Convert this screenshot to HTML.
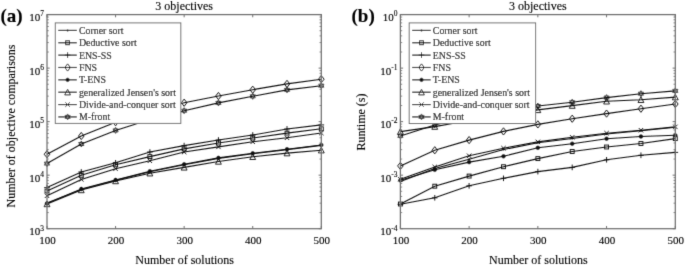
<!DOCTYPE html>
<html><head><meta charset="utf-8"><style>html,body{margin:0;padding:0;background:#fff;width:685px;height:267px;overflow:hidden}svg{display:block}text{font-family:"Liberation Serif",serif;stroke:#000;stroke-width:0.12px}</style></head><body>
<svg width="685" height="267" viewBox="0 0 685 267" font-family='"Liberation Serif", serif' fill="#000"><defs><filter id="bl" x="0" y="0" width="685" height="267" filterUnits="userSpaceOnUse"><feConvolveMatrix order="3" kernelMatrix="0.01134 0.08382 0.01134 0.08382 0.61935 0.08382 0.01134 0.08382 0.01134" edgeMode="duplicate" preserveAlpha="false"/></filter></defs><rect width="685" height="267" fill="#fff"/><g filter="url(#bl)"><polyline points="47.00,203.00 81.29,189.40 115.58,180.40 149.86,171.70 184.15,164.80 218.44,158.40 252.73,153.80 287.01,149.60 321.30,145.40" fill="none" stroke="#111" stroke-width="1.1"/><circle cx="47.00" cy="203.00" r="1" fill="#111"/><circle cx="81.29" cy="189.40" r="1" fill="#111"/><circle cx="115.58" cy="180.40" r="1" fill="#111"/><circle cx="149.86" cy="171.70" r="1" fill="#111"/><circle cx="184.15" cy="164.80" r="1" fill="#111"/><circle cx="218.44" cy="158.40" r="1" fill="#111"/><circle cx="252.73" cy="153.80" r="1" fill="#111"/><circle cx="287.01" cy="149.60" r="1" fill="#111"/><circle cx="321.30" cy="145.40" r="1" fill="#111"/><polyline points="47.00,191.00 81.29,175.30 115.58,164.80 149.86,156.60 184.15,148.90 218.44,143.00 252.73,138.00 287.01,133.10 321.30,128.80" fill="none" stroke="#111" stroke-width="1.1"/><rect x="45.05" y="189.05" width="3.90" height="3.90" fill="none" stroke="#111" stroke-width="0.95"/><rect x="79.34" y="173.35" width="3.90" height="3.90" fill="none" stroke="#111" stroke-width="0.95"/><rect x="113.62" y="162.85" width="3.90" height="3.90" fill="none" stroke="#111" stroke-width="0.95"/><rect x="147.91" y="154.65" width="3.90" height="3.90" fill="none" stroke="#111" stroke-width="0.95"/><rect x="182.20" y="146.95" width="3.90" height="3.90" fill="none" stroke="#111" stroke-width="0.95"/><rect x="216.49" y="141.05" width="3.90" height="3.90" fill="none" stroke="#111" stroke-width="0.95"/><rect x="250.78" y="136.05" width="3.90" height="3.90" fill="none" stroke="#111" stroke-width="0.95"/><rect x="285.06" y="131.15" width="3.90" height="3.90" fill="none" stroke="#111" stroke-width="0.95"/><rect x="319.35" y="126.85" width="3.90" height="3.90" fill="none" stroke="#111" stroke-width="0.95"/><polyline points="47.00,187.60 81.29,171.90 115.58,162.80 149.86,152.00 184.15,145.60 218.44,140.00 252.73,135.00 287.01,129.00 321.30,124.90" fill="none" stroke="#111" stroke-width="1.1"/><path d="M44.20 187.60H49.80M47.00 184.80V190.40" stroke="#111" stroke-width="0.95"/><path d="M78.49 171.90H84.09M81.29 169.10V174.70" stroke="#111" stroke-width="0.95"/><path d="M112.78 162.80H118.38M115.58 160.00V165.60" stroke="#111" stroke-width="0.95"/><path d="M147.06 152.00H152.66M149.86 149.20V154.80" stroke="#111" stroke-width="0.95"/><path d="M181.35 145.60H186.95M184.15 142.80V148.40" stroke="#111" stroke-width="0.95"/><path d="M215.64 140.00H221.24M218.44 137.20V142.80" stroke="#111" stroke-width="0.95"/><path d="M249.93 135.00H255.53M252.73 132.20V137.80" stroke="#111" stroke-width="0.95"/><path d="M284.21 129.00H289.81M287.01 126.20V131.80" stroke="#111" stroke-width="0.95"/><path d="M318.50 124.90H324.10M321.30 122.10V127.70" stroke="#111" stroke-width="0.95"/><polyline points="47.00,154.20 81.29,136.00 115.58,122.20 149.86,111.80 184.15,102.70 218.44,96.00 252.73,89.70 287.01,83.90 321.30,79.20" fill="none" stroke="#111" stroke-width="1.1"/><path d="M47.00 150.60L49.80 154.20L47.00 157.80L44.20 154.20Z" fill="none" stroke="#111" stroke-width="0.95"/><path d="M81.29 132.40L84.09 136.00L81.29 139.60L78.49 136.00Z" fill="none" stroke="#111" stroke-width="0.95"/><path d="M115.58 118.60L118.38 122.20L115.58 125.80L112.78 122.20Z" fill="none" stroke="#111" stroke-width="0.95"/><path d="M149.86 108.20L152.66 111.80L149.86 115.40L147.06 111.80Z" fill="none" stroke="#111" stroke-width="0.95"/><path d="M184.15 99.10L186.95 102.70L184.15 106.30L181.35 102.70Z" fill="none" stroke="#111" stroke-width="0.95"/><path d="M218.44 92.40L221.24 96.00L218.44 99.60L215.64 96.00Z" fill="none" stroke="#111" stroke-width="0.95"/><path d="M252.73 86.10L255.53 89.70L252.73 93.30L249.93 89.70Z" fill="none" stroke="#111" stroke-width="0.95"/><path d="M287.01 80.30L289.81 83.90L287.01 87.50L284.21 83.90Z" fill="none" stroke="#111" stroke-width="0.95"/><path d="M321.30 75.60L324.10 79.20L321.30 82.80L318.50 79.20Z" fill="none" stroke="#111" stroke-width="0.95"/><polyline points="47.00,203.40 81.29,189.00 115.58,180.00 149.86,171.20 184.15,164.30 218.44,157.90 252.73,153.30 287.01,149.20 321.30,145.00" fill="none" stroke="#111" stroke-width="1.1"/><circle cx="47.00" cy="203.40" r="1.8" fill="#111" stroke="#111" stroke-width="0.6"/><circle cx="81.29" cy="189.00" r="1.8" fill="#111" stroke="#111" stroke-width="0.6"/><circle cx="115.58" cy="180.00" r="1.8" fill="#111" stroke="#111" stroke-width="0.6"/><circle cx="149.86" cy="171.20" r="1.8" fill="#111" stroke="#111" stroke-width="0.6"/><circle cx="184.15" cy="164.30" r="1.8" fill="#111" stroke="#111" stroke-width="0.6"/><circle cx="218.44" cy="157.90" r="1.8" fill="#111" stroke="#111" stroke-width="0.6"/><circle cx="252.73" cy="153.30" r="1.8" fill="#111" stroke="#111" stroke-width="0.6"/><circle cx="287.01" cy="149.20" r="1.8" fill="#111" stroke="#111" stroke-width="0.6"/><circle cx="321.30" cy="145.00" r="1.8" fill="#111" stroke="#111" stroke-width="0.6"/><polyline points="47.00,204.00 81.29,190.00 115.58,181.00 149.86,173.20 184.15,167.40 218.44,161.50 252.73,156.80 287.01,153.10 321.30,150.20" fill="none" stroke="#111" stroke-width="1.1"/><path d="M47.00 201.00L49.90 206.70L44.10 206.70Z" fill="none" stroke="#111" stroke-width="0.9"/><path d="M81.29 187.00L84.19 192.70L78.39 192.70Z" fill="none" stroke="#111" stroke-width="0.9"/><path d="M115.58 178.00L118.48 183.70L112.67 183.70Z" fill="none" stroke="#111" stroke-width="0.9"/><path d="M149.86 170.20L152.76 175.90L146.96 175.90Z" fill="none" stroke="#111" stroke-width="0.9"/><path d="M184.15 164.40L187.05 170.10L181.25 170.10Z" fill="none" stroke="#111" stroke-width="0.9"/><path d="M218.44 158.50L221.34 164.20L215.54 164.20Z" fill="none" stroke="#111" stroke-width="0.9"/><path d="M252.73 153.80L255.63 159.50L249.83 159.50Z" fill="none" stroke="#111" stroke-width="0.9"/><path d="M287.01 150.10L289.91 155.80L284.11 155.80Z" fill="none" stroke="#111" stroke-width="0.9"/><path d="M321.30 147.20L324.20 152.90L318.40 152.90Z" fill="none" stroke="#111" stroke-width="0.9"/><polyline points="47.00,195.80 81.29,179.40 115.58,168.70 149.86,160.80 184.15,152.00 218.44,146.90 252.73,141.80 287.01,137.80 321.30,133.00" fill="none" stroke="#111" stroke-width="1.1"/><path d="M44.80 193.60L49.20 198.00M44.80 198.00L49.20 193.60" stroke="#111" stroke-width="0.95"/><path d="M79.09 177.20L83.49 181.60M79.09 181.60L83.49 177.20" stroke="#111" stroke-width="0.95"/><path d="M113.38 166.50L117.78 170.90M113.38 170.90L117.78 166.50" stroke="#111" stroke-width="0.95"/><path d="M147.66 158.60L152.06 163.00M147.66 163.00L152.06 158.60" stroke="#111" stroke-width="0.95"/><path d="M181.95 149.80L186.35 154.20M181.95 154.20L186.35 149.80" stroke="#111" stroke-width="0.95"/><path d="M216.24 144.70L220.64 149.10M216.24 149.10L220.64 144.70" stroke="#111" stroke-width="0.95"/><path d="M250.53 139.60L254.93 144.00M250.53 144.00L254.93 139.60" stroke="#111" stroke-width="0.95"/><path d="M284.81 135.60L289.21 140.00M284.81 140.00L289.21 135.60" stroke="#111" stroke-width="0.95"/><path d="M319.10 130.80L323.50 135.20M319.10 135.20L323.50 130.80" stroke="#111" stroke-width="0.95"/><polyline points="47.00,163.60 81.29,144.00 115.58,130.40 149.86,119.60 184.15,110.70 218.44,102.90 252.73,96.30 287.01,89.90 321.30,85.70" fill="none" stroke="#111" stroke-width="1.1"/><polygon points="47.00,160.60 49.60,165.10 44.40,165.10" fill="none" stroke="#111" stroke-width="0.7"/><polygon points="49.60,162.10 47.00,166.60 44.40,162.10" fill="none" stroke="#111" stroke-width="0.7"/><polygon points="81.29,141.00 83.89,145.50 78.69,145.50" fill="none" stroke="#111" stroke-width="0.7"/><polygon points="83.89,142.50 81.29,147.00 78.69,142.50" fill="none" stroke="#111" stroke-width="0.7"/><polygon points="115.58,127.40 118.17,131.90 112.98,131.90" fill="none" stroke="#111" stroke-width="0.7"/><polygon points="118.17,128.90 115.58,133.40 112.98,128.90" fill="none" stroke="#111" stroke-width="0.7"/><polygon points="149.86,116.60 152.46,121.10 147.26,121.10" fill="none" stroke="#111" stroke-width="0.7"/><polygon points="152.46,118.10 149.86,122.60 147.26,118.10" fill="none" stroke="#111" stroke-width="0.7"/><polygon points="184.15,107.70 186.75,112.20 181.55,112.20" fill="none" stroke="#111" stroke-width="0.7"/><polygon points="186.75,109.20 184.15,113.70 181.55,109.20" fill="none" stroke="#111" stroke-width="0.7"/><polygon points="218.44,99.90 221.04,104.40 215.84,104.40" fill="none" stroke="#111" stroke-width="0.7"/><polygon points="221.04,101.40 218.44,105.90 215.84,101.40" fill="none" stroke="#111" stroke-width="0.7"/><polygon points="252.73,93.30 255.32,97.80 250.13,97.80" fill="none" stroke="#111" stroke-width="0.7"/><polygon points="255.32,94.80 252.73,99.30 250.13,94.80" fill="none" stroke="#111" stroke-width="0.7"/><polygon points="287.01,86.90 289.61,91.40 284.41,91.40" fill="none" stroke="#111" stroke-width="0.7"/><polygon points="289.61,88.40 287.01,92.90 284.41,88.40" fill="none" stroke="#111" stroke-width="0.7"/><polygon points="321.30,82.70 323.90,87.20 318.70,87.20" fill="none" stroke="#111" stroke-width="0.7"/><polygon points="323.90,84.20 321.30,88.70 318.70,84.20" fill="none" stroke="#111" stroke-width="0.7"/><rect x="47.0" y="14.6" width="274.30" height="214.10" fill="none" stroke="#707070" stroke-width="1.25"/><path d="M47.00 228.7v-2.7M47.00 14.6v2.7" stroke="#707070" stroke-width="1"/><text x="47.50" y="243.6" text-anchor="middle" font-size="11">100</text><path d="M115.58 228.7v-2.7M115.58 14.6v2.7" stroke="#707070" stroke-width="1"/><text x="116.08" y="243.6" text-anchor="middle" font-size="11">200</text><path d="M184.15 228.7v-2.7M184.15 14.6v2.7" stroke="#707070" stroke-width="1"/><text x="184.65" y="243.6" text-anchor="middle" font-size="11">300</text><path d="M252.73 228.7v-2.7M252.73 14.6v2.7" stroke="#707070" stroke-width="1"/><text x="253.23" y="243.6" text-anchor="middle" font-size="11">400</text><path d="M321.30 228.7v-2.7M321.30 14.6v2.7" stroke="#707070" stroke-width="1"/><text x="321.80" y="243.6" text-anchor="middle" font-size="11">500</text><path d="M47.0 228.70h2.7M321.3 228.70h-2.7" stroke="#707070" stroke-width="1"/><path d="M47.0 212.59h1.8M321.3 212.59h-1.8" stroke="#707070" stroke-width="0.8"/><path d="M47.0 203.16h1.8M321.3 203.16h-1.8" stroke="#707070" stroke-width="0.8"/><path d="M47.0 196.47h1.8M321.3 196.47h-1.8" stroke="#707070" stroke-width="0.8"/><path d="M47.0 191.29h1.8M321.3 191.29h-1.8" stroke="#707070" stroke-width="0.8"/><path d="M47.0 187.05h1.8M321.3 187.05h-1.8" stroke="#707070" stroke-width="0.8"/><path d="M47.0 183.47h1.8M321.3 183.47h-1.8" stroke="#707070" stroke-width="0.8"/><path d="M47.0 180.36h1.8M321.3 180.36h-1.8" stroke="#707070" stroke-width="0.8"/><path d="M47.0 177.62h1.8M321.3 177.62h-1.8" stroke="#707070" stroke-width="0.8"/><text x="44.00" y="235.10" text-anchor="end" font-size="11">10<tspan dy="-4.6" font-size="7.5">3</tspan></text><path d="M47.0 175.17h2.7M321.3 175.17h-2.7" stroke="#707070" stroke-width="1"/><path d="M47.0 159.06h1.8M321.3 159.06h-1.8" stroke="#707070" stroke-width="0.8"/><path d="M47.0 149.64h1.8M321.3 149.64h-1.8" stroke="#707070" stroke-width="0.8"/><path d="M47.0 142.95h1.8M321.3 142.95h-1.8" stroke="#707070" stroke-width="0.8"/><path d="M47.0 137.76h1.8M321.3 137.76h-1.8" stroke="#707070" stroke-width="0.8"/><path d="M47.0 133.52h1.8M321.3 133.52h-1.8" stroke="#707070" stroke-width="0.8"/><path d="M47.0 129.94h1.8M321.3 129.94h-1.8" stroke="#707070" stroke-width="0.8"/><path d="M47.0 126.84h1.8M321.3 126.84h-1.8" stroke="#707070" stroke-width="0.8"/><path d="M47.0 124.10h1.8M321.3 124.10h-1.8" stroke="#707070" stroke-width="0.8"/><text x="44.00" y="181.57" text-anchor="end" font-size="11">10<tspan dy="-4.6" font-size="7.5">4</tspan></text><path d="M47.0 121.65h2.7M321.3 121.65h-2.7" stroke="#707070" stroke-width="1"/><path d="M47.0 105.54h1.8M321.3 105.54h-1.8" stroke="#707070" stroke-width="0.8"/><path d="M47.0 96.11h1.8M321.3 96.11h-1.8" stroke="#707070" stroke-width="0.8"/><path d="M47.0 89.42h1.8M321.3 89.42h-1.8" stroke="#707070" stroke-width="0.8"/><path d="M47.0 84.24h1.8M321.3 84.24h-1.8" stroke="#707070" stroke-width="0.8"/><path d="M47.0 80.00h1.8M321.3 80.00h-1.8" stroke="#707070" stroke-width="0.8"/><path d="M47.0 76.42h1.8M321.3 76.42h-1.8" stroke="#707070" stroke-width="0.8"/><path d="M47.0 73.31h1.8M321.3 73.31h-1.8" stroke="#707070" stroke-width="0.8"/><path d="M47.0 70.57h1.8M321.3 70.57h-1.8" stroke="#707070" stroke-width="0.8"/><text x="44.00" y="128.05" text-anchor="end" font-size="11">10<tspan dy="-4.6" font-size="7.5">5</tspan></text><path d="M47.0 68.12h2.7M321.3 68.12h-2.7" stroke="#707070" stroke-width="1"/><path d="M47.0 52.01h1.8M321.3 52.01h-1.8" stroke="#707070" stroke-width="0.8"/><path d="M47.0 42.59h1.8M321.3 42.59h-1.8" stroke="#707070" stroke-width="0.8"/><path d="M47.0 35.90h1.8M321.3 35.90h-1.8" stroke="#707070" stroke-width="0.8"/><path d="M47.0 30.71h1.8M321.3 30.71h-1.8" stroke="#707070" stroke-width="0.8"/><path d="M47.0 26.47h1.8M321.3 26.47h-1.8" stroke="#707070" stroke-width="0.8"/><path d="M47.0 22.89h1.8M321.3 22.89h-1.8" stroke="#707070" stroke-width="0.8"/><path d="M47.0 19.79h1.8M321.3 19.79h-1.8" stroke="#707070" stroke-width="0.8"/><path d="M47.0 17.05h1.8M321.3 17.05h-1.8" stroke="#707070" stroke-width="0.8"/><text x="44.00" y="74.53" text-anchor="end" font-size="11">10<tspan dy="-4.6" font-size="7.5">6</tspan></text><path d="M47.0 14.60h2.7M321.3 14.60h-2.7" stroke="#707070" stroke-width="1"/><text x="44.00" y="21.00" text-anchor="end" font-size="11">10<tspan dy="-4.6" font-size="7.5">7</tspan></text><text x="184.15" y="10.3" text-anchor="middle" font-size="12">3 objectives</text><text x="184.65" y="263.8" text-anchor="middle" font-size="12">Number of solutions</text><text transform="translate(14.5,126) rotate(-90)" text-anchor="middle" font-size="12">Number of objective comparisons</text><text x="0.5" y="22.0" font-size="19" font-weight="bold">(a)</text><rect x="55.3" y="22.9" width="125.5" height="100.5" fill="#fff" stroke="#707070" stroke-width="1"/><path d="M58.30 30.40H76.80" stroke="#111" stroke-width="1.15"/><circle cx="67.60" cy="30.40" r="1" fill="#111"/><text x="78.90" y="33.80" font-size="9.9">Corner sort</text><path d="M58.30 42.76H76.80" stroke="#111" stroke-width="1.15"/><rect x="65.65" y="40.81" width="3.90" height="3.90" fill="none" stroke="#111" stroke-width="0.95"/><text x="78.90" y="46.16" font-size="9.9">Deductive sort</text><path d="M58.30 55.12H76.80" stroke="#111" stroke-width="1.15"/><path d="M64.80 55.12H70.40M67.60 52.32V57.92" stroke="#111" stroke-width="0.95"/><text x="78.90" y="58.52" font-size="9.9">ENS-SS</text><path d="M58.30 67.48H76.80" stroke="#111" stroke-width="1.15"/><path d="M67.60 63.88L70.40 67.48L67.60 71.08L64.80 67.48Z" fill="none" stroke="#111" stroke-width="0.95"/><text x="78.90" y="70.88" font-size="9.9">FNS</text><path d="M58.30 79.84H76.80" stroke="#111" stroke-width="1.15"/><circle cx="67.60" cy="79.84" r="1.8" fill="#111" stroke="#111" stroke-width="0.6"/><text x="78.90" y="83.24" font-size="9.9">T-ENS</text><path d="M58.30 92.20H76.80" stroke="#111" stroke-width="1.15"/><path d="M67.60 89.20L70.50 94.90L64.70 94.90Z" fill="none" stroke="#111" stroke-width="0.9"/><text x="78.90" y="95.60" font-size="9.9">generalized Jensen's sort</text><path d="M58.30 104.56H76.80" stroke="#111" stroke-width="1.15"/><path d="M65.40 102.36L69.80 106.76M65.40 106.76L69.80 102.36" stroke="#111" stroke-width="0.95"/><text x="78.90" y="107.96" font-size="9.9">Divide-and-conquer sort</text><path d="M58.30 116.92H76.80" stroke="#111" stroke-width="1.15"/><polygon points="67.60,113.92 70.20,118.42 65.00,118.42" fill="none" stroke="#111" stroke-width="0.7"/><polygon points="70.20,115.42 67.60,119.92 65.00,115.42" fill="none" stroke="#111" stroke-width="0.7"/><text x="78.90" y="120.32" font-size="9.9">M-front</text><polyline points="400.40,181.60 434.76,168.40 469.12,159.20 503.49,149.50 537.85,142.80 572.21,138.50 606.57,134.00 640.94,130.80 675.30,127.30" fill="none" stroke="#111" stroke-width="1.1"/><circle cx="400.40" cy="181.60" r="1" fill="#111"/><circle cx="434.76" cy="168.40" r="1" fill="#111"/><circle cx="469.12" cy="159.20" r="1" fill="#111"/><circle cx="503.49" cy="149.50" r="1" fill="#111"/><circle cx="537.85" cy="142.80" r="1" fill="#111"/><circle cx="572.21" cy="138.50" r="1" fill="#111"/><circle cx="606.57" cy="134.00" r="1" fill="#111"/><circle cx="640.94" cy="130.80" r="1" fill="#111"/><circle cx="675.30" cy="127.30" r="1" fill="#111"/><polyline points="400.40,204.00 434.76,186.20 469.12,176.10 503.49,166.70 537.85,158.60 572.21,151.50 606.57,147.00 640.94,143.50 675.30,138.60" fill="none" stroke="#111" stroke-width="1.1"/><rect x="398.45" y="202.05" width="3.90" height="3.90" fill="none" stroke="#111" stroke-width="0.95"/><rect x="432.81" y="184.25" width="3.90" height="3.90" fill="none" stroke="#111" stroke-width="0.95"/><rect x="467.18" y="174.15" width="3.90" height="3.90" fill="none" stroke="#111" stroke-width="0.95"/><rect x="501.54" y="164.75" width="3.90" height="3.90" fill="none" stroke="#111" stroke-width="0.95"/><rect x="535.90" y="156.65" width="3.90" height="3.90" fill="none" stroke="#111" stroke-width="0.95"/><rect x="570.26" y="149.55" width="3.90" height="3.90" fill="none" stroke="#111" stroke-width="0.95"/><rect x="604.62" y="145.05" width="3.90" height="3.90" fill="none" stroke="#111" stroke-width="0.95"/><rect x="638.99" y="141.55" width="3.90" height="3.90" fill="none" stroke="#111" stroke-width="0.95"/><rect x="673.35" y="136.65" width="3.90" height="3.90" fill="none" stroke="#111" stroke-width="0.95"/><polyline points="400.40,204.30 434.76,197.80 469.12,185.80 503.49,178.30 537.85,171.60 572.21,167.40 606.57,159.80 640.94,155.30 675.30,152.40" fill="none" stroke="#111" stroke-width="1.1"/><path d="M397.60 204.30H403.20M400.40 201.50V207.10" stroke="#111" stroke-width="0.95"/><path d="M431.96 197.80H437.56M434.76 195.00V200.60" stroke="#111" stroke-width="0.95"/><path d="M466.32 185.80H471.93M469.12 183.00V188.60" stroke="#111" stroke-width="0.95"/><path d="M500.69 178.30H506.29M503.49 175.50V181.10" stroke="#111" stroke-width="0.95"/><path d="M535.05 171.60H540.65M537.85 168.80V174.40" stroke="#111" stroke-width="0.95"/><path d="M569.41 167.40H575.01M572.21 164.60V170.20" stroke="#111" stroke-width="0.95"/><path d="M603.77 159.80H609.37M606.57 157.00V162.60" stroke="#111" stroke-width="0.95"/><path d="M638.14 155.30H643.74M640.94 152.50V158.10" stroke="#111" stroke-width="0.95"/><path d="M672.50 152.40H678.10M675.30 149.60V155.20" stroke="#111" stroke-width="0.95"/><polyline points="400.40,165.90 434.76,150.30 469.12,140.10 503.49,131.40 537.85,124.40 572.21,118.70 606.57,113.60 640.94,108.70 675.30,104.00" fill="none" stroke="#111" stroke-width="1.1"/><path d="M400.40 162.30L403.20 165.90L400.40 169.50L397.60 165.90Z" fill="none" stroke="#111" stroke-width="0.95"/><path d="M434.76 146.70L437.56 150.30L434.76 153.90L431.96 150.30Z" fill="none" stroke="#111" stroke-width="0.95"/><path d="M469.12 136.50L471.93 140.10L469.12 143.70L466.32 140.10Z" fill="none" stroke="#111" stroke-width="0.95"/><path d="M503.49 127.80L506.29 131.40L503.49 135.00L500.69 131.40Z" fill="none" stroke="#111" stroke-width="0.95"/><path d="M537.85 120.80L540.65 124.40L537.85 128.00L535.05 124.40Z" fill="none" stroke="#111" stroke-width="0.95"/><path d="M572.21 115.10L575.01 118.70L572.21 122.30L569.41 118.70Z" fill="none" stroke="#111" stroke-width="0.95"/><path d="M606.57 110.00L609.37 113.60L606.57 117.20L603.77 113.60Z" fill="none" stroke="#111" stroke-width="0.95"/><path d="M640.94 105.10L643.74 108.70L640.94 112.30L638.14 108.70Z" fill="none" stroke="#111" stroke-width="0.95"/><path d="M675.30 100.40L678.10 104.00L675.30 107.60L672.50 104.00Z" fill="none" stroke="#111" stroke-width="0.95"/><polyline points="400.40,180.20 434.76,169.80 469.12,162.10 503.49,156.30 537.85,147.80 572.21,143.70 606.57,138.70 640.94,136.50 675.30,135.30" fill="none" stroke="#111" stroke-width="1.1"/><circle cx="400.40" cy="180.20" r="1.8" fill="#111" stroke="#111" stroke-width="0.6"/><circle cx="434.76" cy="169.80" r="1.8" fill="#111" stroke="#111" stroke-width="0.6"/><circle cx="469.12" cy="162.10" r="1.8" fill="#111" stroke="#111" stroke-width="0.6"/><circle cx="503.49" cy="156.30" r="1.8" fill="#111" stroke="#111" stroke-width="0.6"/><circle cx="537.85" cy="147.80" r="1.8" fill="#111" stroke="#111" stroke-width="0.6"/><circle cx="572.21" cy="143.70" r="1.8" fill="#111" stroke="#111" stroke-width="0.6"/><circle cx="606.57" cy="138.70" r="1.8" fill="#111" stroke="#111" stroke-width="0.6"/><circle cx="640.94" cy="136.50" r="1.8" fill="#111" stroke="#111" stroke-width="0.6"/><circle cx="675.30" cy="135.30" r="1.8" fill="#111" stroke="#111" stroke-width="0.6"/><polyline points="400.40,131.60 434.76,126.60 469.12,120.50 503.49,115.50 537.85,109.90 572.21,105.60 606.57,101.30 640.94,99.80 675.30,97.10" fill="none" stroke="#111" stroke-width="1.1"/><path d="M400.40 128.60L403.30 134.30L397.50 134.30Z" fill="none" stroke="#111" stroke-width="0.9"/><path d="M434.76 123.60L437.66 129.30L431.86 129.30Z" fill="none" stroke="#111" stroke-width="0.9"/><path d="M469.12 117.50L472.02 123.20L466.23 123.20Z" fill="none" stroke="#111" stroke-width="0.9"/><path d="M503.49 112.50L506.39 118.20L500.59 118.20Z" fill="none" stroke="#111" stroke-width="0.9"/><path d="M537.85 106.90L540.75 112.60L534.95 112.60Z" fill="none" stroke="#111" stroke-width="0.9"/><path d="M572.21 102.60L575.11 108.30L569.31 108.30Z" fill="none" stroke="#111" stroke-width="0.9"/><path d="M606.57 98.30L609.47 104.00L603.67 104.00Z" fill="none" stroke="#111" stroke-width="0.9"/><path d="M640.94 96.80L643.84 102.50L638.04 102.50Z" fill="none" stroke="#111" stroke-width="0.9"/><path d="M675.30 94.10L678.20 99.80L672.40 99.80Z" fill="none" stroke="#111" stroke-width="0.9"/><polyline points="400.40,179.30 434.76,167.00 469.12,155.80 503.49,148.20 537.85,141.90 572.21,137.30 606.57,133.20 640.94,130.20 675.30,126.90" fill="none" stroke="#111" stroke-width="1.1"/><path d="M398.20 177.10L402.60 181.50M398.20 181.50L402.60 177.10" stroke="#111" stroke-width="0.95"/><path d="M432.56 164.80L436.96 169.20M432.56 169.20L436.96 164.80" stroke="#111" stroke-width="0.95"/><path d="M466.93 153.60L471.32 158.00M466.93 158.00L471.32 153.60" stroke="#111" stroke-width="0.95"/><path d="M501.29 146.00L505.69 150.40M501.29 150.40L505.69 146.00" stroke="#111" stroke-width="0.95"/><path d="M535.65 139.70L540.05 144.10M535.65 144.10L540.05 139.70" stroke="#111" stroke-width="0.95"/><path d="M570.01 135.10L574.41 139.50M570.01 139.50L574.41 135.10" stroke="#111" stroke-width="0.95"/><path d="M604.37 131.00L608.77 135.40M604.37 135.40L608.77 131.00" stroke="#111" stroke-width="0.95"/><path d="M638.74 128.00L643.14 132.40M638.74 132.40L643.14 128.00" stroke="#111" stroke-width="0.95"/><path d="M673.10 124.70L677.50 129.10M673.10 129.10L677.50 124.70" stroke="#111" stroke-width="0.95"/><polyline points="400.40,135.90 434.76,125.00 469.12,117.00 503.49,111.00 537.85,106.00 572.21,102.20 606.57,97.60 640.94,93.70 675.30,90.90" fill="none" stroke="#111" stroke-width="1.1"/><polygon points="400.40,132.90 403.00,137.40 397.80,137.40" fill="none" stroke="#111" stroke-width="0.7"/><polygon points="403.00,134.40 400.40,138.90 397.80,134.40" fill="none" stroke="#111" stroke-width="0.7"/><polygon points="434.76,122.00 437.36,126.50 432.16,126.50" fill="none" stroke="#111" stroke-width="0.7"/><polygon points="437.36,123.50 434.76,128.00 432.16,123.50" fill="none" stroke="#111" stroke-width="0.7"/><polygon points="469.12,114.00 471.72,118.50 466.53,118.50" fill="none" stroke="#111" stroke-width="0.7"/><polygon points="471.72,115.50 469.12,120.00 466.53,115.50" fill="none" stroke="#111" stroke-width="0.7"/><polygon points="503.49,108.00 506.09,112.50 500.89,112.50" fill="none" stroke="#111" stroke-width="0.7"/><polygon points="506.09,109.50 503.49,114.00 500.89,109.50" fill="none" stroke="#111" stroke-width="0.7"/><polygon points="537.85,103.00 540.45,107.50 535.25,107.50" fill="none" stroke="#111" stroke-width="0.7"/><polygon points="540.45,104.50 537.85,109.00 535.25,104.50" fill="none" stroke="#111" stroke-width="0.7"/><polygon points="572.21,99.20 574.81,103.70 569.61,103.70" fill="none" stroke="#111" stroke-width="0.7"/><polygon points="574.81,100.70 572.21,105.20 569.61,100.70" fill="none" stroke="#111" stroke-width="0.7"/><polygon points="606.57,94.60 609.17,99.10 603.98,99.10" fill="none" stroke="#111" stroke-width="0.7"/><polygon points="609.17,96.10 606.57,100.60 603.98,96.10" fill="none" stroke="#111" stroke-width="0.7"/><polygon points="640.94,90.70 643.54,95.20 638.34,95.20" fill="none" stroke="#111" stroke-width="0.7"/><polygon points="643.54,92.20 640.94,96.70 638.34,92.20" fill="none" stroke="#111" stroke-width="0.7"/><polygon points="675.30,87.90 677.90,92.40 672.70,92.40" fill="none" stroke="#111" stroke-width="0.7"/><polygon points="677.90,89.40 675.30,93.90 672.70,89.40" fill="none" stroke="#111" stroke-width="0.7"/><rect x="400.4" y="14.6" width="274.90" height="214.10" fill="none" stroke="#707070" stroke-width="1.25"/><path d="M400.40 228.7v-2.7M400.40 14.6v2.7" stroke="#707070" stroke-width="1"/><text x="400.90" y="243.6" text-anchor="middle" font-size="11">100</text><path d="M469.12 228.7v-2.7M469.12 14.6v2.7" stroke="#707070" stroke-width="1"/><text x="469.62" y="243.6" text-anchor="middle" font-size="11">200</text><path d="M537.85 228.7v-2.7M537.85 14.6v2.7" stroke="#707070" stroke-width="1"/><text x="538.35" y="243.6" text-anchor="middle" font-size="11">300</text><path d="M606.57 228.7v-2.7M606.57 14.6v2.7" stroke="#707070" stroke-width="1"/><text x="607.07" y="243.6" text-anchor="middle" font-size="11">400</text><path d="M675.30 228.7v-2.7M675.30 14.6v2.7" stroke="#707070" stroke-width="1"/><text x="675.80" y="243.6" text-anchor="middle" font-size="11">500</text><path d="M400.4 228.70h2.7M675.3 228.70h-2.7" stroke="#707070" stroke-width="1"/><path d="M400.4 212.59h1.8M675.3 212.59h-1.8" stroke="#707070" stroke-width="0.8"/><path d="M400.4 203.16h1.8M675.3 203.16h-1.8" stroke="#707070" stroke-width="0.8"/><path d="M400.4 196.47h1.8M675.3 196.47h-1.8" stroke="#707070" stroke-width="0.8"/><path d="M400.4 191.29h1.8M675.3 191.29h-1.8" stroke="#707070" stroke-width="0.8"/><path d="M400.4 187.05h1.8M675.3 187.05h-1.8" stroke="#707070" stroke-width="0.8"/><path d="M400.4 183.47h1.8M675.3 183.47h-1.8" stroke="#707070" stroke-width="0.8"/><path d="M400.4 180.36h1.8M675.3 180.36h-1.8" stroke="#707070" stroke-width="0.8"/><path d="M400.4 177.62h1.8M675.3 177.62h-1.8" stroke="#707070" stroke-width="0.8"/><text x="397.40" y="235.10" text-anchor="end" font-size="11">10<tspan dy="-4.6" font-size="7.5">-4</tspan></text><path d="M400.4 175.17h2.7M675.3 175.17h-2.7" stroke="#707070" stroke-width="1"/><path d="M400.4 159.06h1.8M675.3 159.06h-1.8" stroke="#707070" stroke-width="0.8"/><path d="M400.4 149.64h1.8M675.3 149.64h-1.8" stroke="#707070" stroke-width="0.8"/><path d="M400.4 142.95h1.8M675.3 142.95h-1.8" stroke="#707070" stroke-width="0.8"/><path d="M400.4 137.76h1.8M675.3 137.76h-1.8" stroke="#707070" stroke-width="0.8"/><path d="M400.4 133.52h1.8M675.3 133.52h-1.8" stroke="#707070" stroke-width="0.8"/><path d="M400.4 129.94h1.8M675.3 129.94h-1.8" stroke="#707070" stroke-width="0.8"/><path d="M400.4 126.84h1.8M675.3 126.84h-1.8" stroke="#707070" stroke-width="0.8"/><path d="M400.4 124.10h1.8M675.3 124.10h-1.8" stroke="#707070" stroke-width="0.8"/><text x="397.40" y="181.57" text-anchor="end" font-size="11">10<tspan dy="-4.6" font-size="7.5">-3</tspan></text><path d="M400.4 121.65h2.7M675.3 121.65h-2.7" stroke="#707070" stroke-width="1"/><path d="M400.4 105.54h1.8M675.3 105.54h-1.8" stroke="#707070" stroke-width="0.8"/><path d="M400.4 96.11h1.8M675.3 96.11h-1.8" stroke="#707070" stroke-width="0.8"/><path d="M400.4 89.42h1.8M675.3 89.42h-1.8" stroke="#707070" stroke-width="0.8"/><path d="M400.4 84.24h1.8M675.3 84.24h-1.8" stroke="#707070" stroke-width="0.8"/><path d="M400.4 80.00h1.8M675.3 80.00h-1.8" stroke="#707070" stroke-width="0.8"/><path d="M400.4 76.42h1.8M675.3 76.42h-1.8" stroke="#707070" stroke-width="0.8"/><path d="M400.4 73.31h1.8M675.3 73.31h-1.8" stroke="#707070" stroke-width="0.8"/><path d="M400.4 70.57h1.8M675.3 70.57h-1.8" stroke="#707070" stroke-width="0.8"/><text x="397.40" y="128.05" text-anchor="end" font-size="11">10<tspan dy="-4.6" font-size="7.5">-2</tspan></text><path d="M400.4 68.12h2.7M675.3 68.12h-2.7" stroke="#707070" stroke-width="1"/><path d="M400.4 52.01h1.8M675.3 52.01h-1.8" stroke="#707070" stroke-width="0.8"/><path d="M400.4 42.59h1.8M675.3 42.59h-1.8" stroke="#707070" stroke-width="0.8"/><path d="M400.4 35.90h1.8M675.3 35.90h-1.8" stroke="#707070" stroke-width="0.8"/><path d="M400.4 30.71h1.8M675.3 30.71h-1.8" stroke="#707070" stroke-width="0.8"/><path d="M400.4 26.47h1.8M675.3 26.47h-1.8" stroke="#707070" stroke-width="0.8"/><path d="M400.4 22.89h1.8M675.3 22.89h-1.8" stroke="#707070" stroke-width="0.8"/><path d="M400.4 19.79h1.8M675.3 19.79h-1.8" stroke="#707070" stroke-width="0.8"/><path d="M400.4 17.05h1.8M675.3 17.05h-1.8" stroke="#707070" stroke-width="0.8"/><text x="397.40" y="74.53" text-anchor="end" font-size="11">10<tspan dy="-4.6" font-size="7.5">-1</tspan></text><path d="M400.4 14.60h2.7M675.3 14.60h-2.7" stroke="#707070" stroke-width="1"/><text x="397.40" y="21.00" text-anchor="end" font-size="11">10<tspan dy="-4.6" font-size="7.5">0</tspan></text><text x="537.85" y="10.3" text-anchor="middle" font-size="12">3 objectives</text><text x="538.35" y="263.8" text-anchor="middle" font-size="12">Number of solutions</text><text transform="translate(364.8,122) rotate(-90)" text-anchor="middle" font-size="12">Runtime (s)</text><text x="351.5" y="22.0" font-size="19" font-weight="bold">(b)</text><rect x="409.2" y="22.9" width="126.4" height="100.6" fill="#fff" stroke="#707070" stroke-width="1"/><path d="M412.20 30.40H430.70" stroke="#111" stroke-width="1.15"/><circle cx="421.50" cy="30.40" r="1" fill="#111"/><text x="432.80" y="33.80" font-size="9.9">Corner sort</text><path d="M412.20 42.76H430.70" stroke="#111" stroke-width="1.15"/><rect x="419.55" y="40.81" width="3.90" height="3.90" fill="none" stroke="#111" stroke-width="0.95"/><text x="432.80" y="46.16" font-size="9.9">Deductive sort</text><path d="M412.20 55.12H430.70" stroke="#111" stroke-width="1.15"/><path d="M418.70 55.12H424.30M421.50 52.32V57.92" stroke="#111" stroke-width="0.95"/><text x="432.80" y="58.52" font-size="9.9">ENS-SS</text><path d="M412.20 67.48H430.70" stroke="#111" stroke-width="1.15"/><path d="M421.50 63.88L424.30 67.48L421.50 71.08L418.70 67.48Z" fill="none" stroke="#111" stroke-width="0.95"/><text x="432.80" y="70.88" font-size="9.9">FNS</text><path d="M412.20 79.84H430.70" stroke="#111" stroke-width="1.15"/><circle cx="421.50" cy="79.84" r="1.8" fill="#111" stroke="#111" stroke-width="0.6"/><text x="432.80" y="83.24" font-size="9.9">T-ENS</text><path d="M412.20 92.20H430.70" stroke="#111" stroke-width="1.15"/><path d="M421.50 89.20L424.40 94.90L418.60 94.90Z" fill="none" stroke="#111" stroke-width="0.9"/><text x="432.80" y="95.60" font-size="9.9">generalized Jensen's sort</text><path d="M412.20 104.56H430.70" stroke="#111" stroke-width="1.15"/><path d="M419.30 102.36L423.70 106.76M419.30 106.76L423.70 102.36" stroke="#111" stroke-width="0.95"/><text x="432.80" y="107.96" font-size="9.9">Divide-and-conquer sort</text><path d="M412.20 116.92H430.70" stroke="#111" stroke-width="1.15"/><polygon points="421.50,113.92 424.10,118.42 418.90,118.42" fill="none" stroke="#111" stroke-width="0.7"/><polygon points="424.10,115.42 421.50,119.92 418.90,115.42" fill="none" stroke="#111" stroke-width="0.7"/><text x="432.80" y="120.32" font-size="9.9">M-front</text></g></svg>
</body></html>
